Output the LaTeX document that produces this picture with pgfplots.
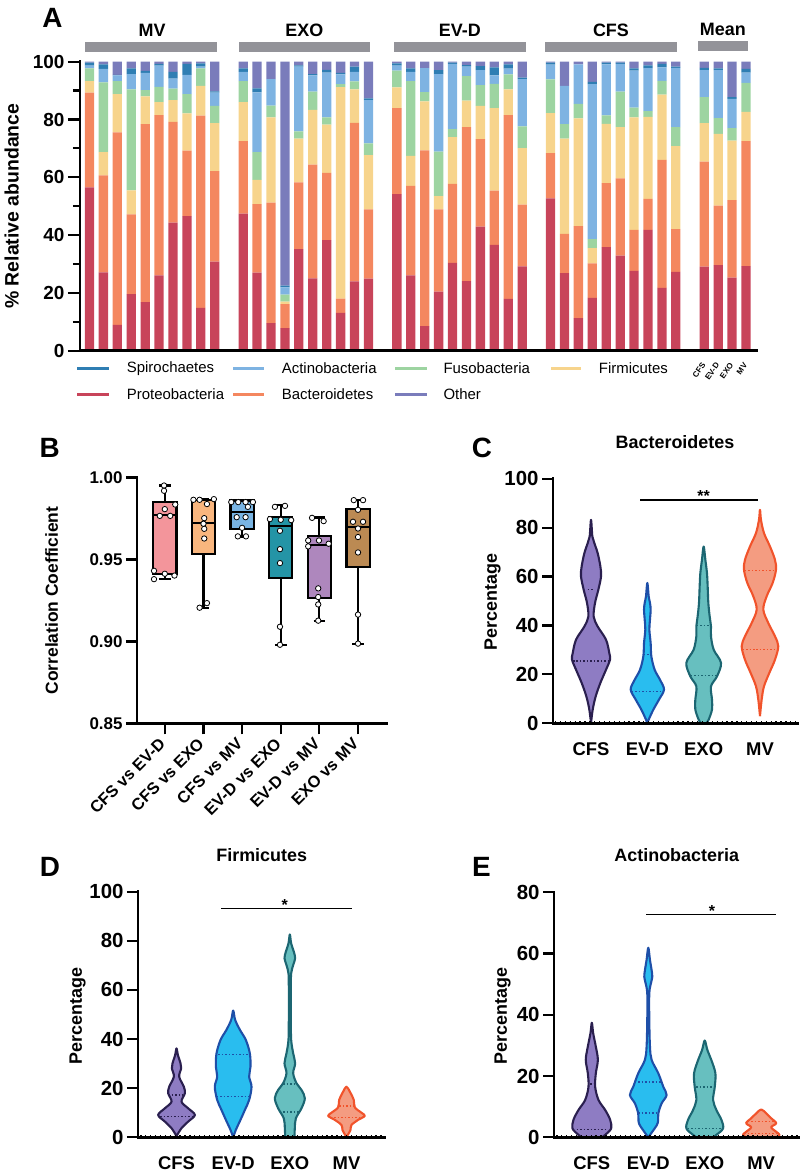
\documentclass[border=0pt]{standalone}
\usepackage{fontspec}
\setmainfont{Liberation Sans}
\usepackage{pgfplots}
\pgfplotsset{compat=1.18}
\usepackage{pgfplotstable}
\usepgfplotslibrary{statistics}
\newcommand{\fs}[1]{\fontsize{#1}{#1}\selectfont}
\definecolor{cP}{HTML}{C8445A}
\definecolor{cB}{HTML}{F4875F}
\definecolor{cF}{HTML}{F7D48C}
\definecolor{cFu}{HTML}{9DD4A1}
\definecolor{cA}{HTML}{7EB3E2}
\definecolor{cS}{HTML}{2F7EB3}
\definecolor{cO}{HTML}{7A7CBB}
\definecolor{grp}{HTML}{939399}
\definecolor{b1}{HTML}{F3959B}
\definecolor{b2}{HTML}{F9B67E}
\definecolor{b3}{HTML}{79B4E3}
\definecolor{b4}{HTML}{2494A6}
\definecolor{b5}{HTML}{AE87BD}
\definecolor{b6}{HTML}{BB8A53}
\definecolor{fCFS}{HTML}{8E7CC3}
\definecolor{eCFS}{HTML}{2A1F4F}
\definecolor{fEVD}{HTML}{29BDEF}
\definecolor{eEVD}{HTML}{1E4FA8}
\definecolor{fEXO}{HTML}{67BFBF}
\definecolor{eEXO}{HTML}{1C6672}
\definecolor{fMV}{HTML}{F49C81}
\definecolor{eMV}{HTML}{F1532B}

\pgfplotstableread{
x P B F Fu A S O
0 56.5 32.8 4.0 4.4 0.9 1.1 0.3
1 27.1 33.6 8.0 24.1 4.7 1.6 0.9
2 8.9 66.6 13.3 4.5 2.0 0.1 4.6
3 19.6 27.6 8.3 34.9 5.3 2.0 2.3
4 16.8 61.6 9.6 2.2 5.9 0.7 3.2
5 26.1 55.4 4.5 5.3 7.3 0.6 0.8
6 44.3 34.9 7.5 4.0 3.4 2.4 3.5
7 46.6 22.6 12.9 6.7 6.6 3.8 0.8
8 14.8 66.5 10.3 6.1 0.6 1.1 0.6
9 30.8 31.3 16.6 6.0 4.6 0.4 10.3
11.04 47.4 25.1 13.5 7.3 3.2 1.2 2.3
12.04 27.0 23.7 8.4 9.6 20.7 1.4 9.2
13.04 9.5 41.7 29.5 4.1 9.2 0.0 6.0
14.04 7.8 8.3 0.9 2.4 2.5 0.6 77.5
15.04 35.1 23.1 15.2 2.5 22.4 0.4 1.3
16.04 25.0 39.4 18.9 6.3 5.7 0.4 4.3
17.04 38.3 23.2 16.7 2.5 15.5 1.0 2.8
18.04 13.1 4.9 73.2 1.0 3.4 0.5 3.9
19.04 24.0 54.8 11.6 2.8 3.3 1.8 1.7
20.04 24.9 24.0 18.8 4.0 15.0 0.6 12.7
22.08 54.2 29.7 7.2 5.8 1.7 0.8 0.6
23.08 26.1 30.9 10.4 25.9 3.2 1.2 2.3
24.08 8.5 60.8 17.0 3.2 8.3 0.0 2.2
25.08 20.4 28.5 4.6 15.4 26.8 1.4 2.9
26.08 30.4 27.3 16.2 2.8 22.5 0.5 0.3
27.08 24.1 53.3 9.1 8.5 3.3 0.5 1.2
28.08 42.9 30.3 11.5 7.2 5.2 1.4 1.5
29.08 36.6 18.8 28.5 8.4 3.0 2.7 2.0
30.08 17.9 63.6 8.9 5.2 2.0 1.5 0.9
31.08 29.2 21.3 19.6 7.5 16.4 0.5 5.5
33.12 52.7 15.7 13.8 11.7 5.1 0.7 0.3
34.12 26.8 13.6 33.0 5.0 13.2 0.0 8.4
35.12 11.3 31.8 37.3 5.0 13.7 0.0 0.9
36.12 18.3 11.9 5.3 3.1 53.6 0.8 7.0
37.12 35.8 22.2 20.5 2.9 17.7 0.6 0.3
38.12 32.9 26.7 17.8 12.2 9.6 0.5 0.3
39.12 27.6 14.2 38.9 3.4 12.8 0.8 2.3
40.12 41.8 10.7 28.4 2.0 14.9 0.9 1.3
41.12 21.7 44.3 22.6 4.8 4.6 1.2 0.8
42.12 27.3 14.8 28.7 6.6 20.5 0.4 1.7
44.16 29.1 36.3 13.3 9.0 9.4 0.8 2.1
45.16 29.6 20.6 24.8 5.5 16.6 0.6 2.3
46.16 25.3 26.8 20.6 4.3 10.1 0.6 12.3
47.16 29.3 43.2 10.1 10.1 3.5 1.3 2.5
}\dataA

% violin outlines: half-width w (axis units) at height y, right side up then left side down
\pgfplotstableread{
w y
0 0
0.030 5.6
0.083 11
0.166 16.5
0.266 21.9
0.337 26
0.325 28.7
0.266 34.2
0.118 39.6
0.047 43.7
0.071 49.2
0.130 54.6
0.178 60.1
0.166 64.2
0.118 69.6
0.059 73.7
0.024 76.4
0 83.2
-0.024 76.4
-0.059 73.7
-0.118 69.6
-0.166 64.2
-0.178 60.1
-0.130 54.6
-0.071 49.2
-0.047 43.7
-0.118 39.6
-0.266 34.2
-0.325 28.7
-0.337 26
-0.266 21.9
-0.166 16.5
-0.083 11
-0.030 5.6
0 0
}\vCa
\pgfplotstableread{
w y
0 0
0.024 1.5
0.107 5.6
0.207 9.7
0.296 13.8
0.225 17.8
0.130 21.9
0.071 27.4
0.059 32.8
0.036 38.3
0.047 42.4
0.059 46.5
0.047 49.2
0.024 51.9
0 57.4
-0.024 51.9
-0.047 49.2
-0.059 46.5
-0.047 42.4
-0.036 38.3
-0.059 32.8
-0.071 27.4
-0.130 21.9
-0.225 17.8
-0.296 13.8
-0.207 9.7
-0.107 5.6
-0.024 1.5
0 0
}\vCb
\pgfplotstableread{
w y
0.047 0
0.089 1.5
0.148 5.6
0.148 9.7
0.130 15.1
0.237 19.2
0.308 24.7
0.178 30.1
0.130 35.6
0.130 39.6
0.107 43.7
0.083 49.2
0.071 56
0.059 61.4
0.030 66.9
0 72.3
-0.030 66.9
-0.059 61.4
-0.071 56
-0.083 49.2
-0.107 43.7
-0.130 39.6
-0.130 35.6
-0.178 30.1
-0.308 24.7
-0.237 19.2
-0.130 15.1
-0.148 9.7
-0.148 5.6
-0.089 1.5
-0.047 0
}\vCc
\pgfplotstableread{
w y
0 2.9
0.030 9.7
0.071 15.1
0.166 20.6
0.266 26
0.325 31.5
0.266 35.6
0.148 41
0.059 46.5
0.118 51.9
0.225 57.4
0.284 62.8
0.266 66.9
0.178 72.3
0.071 77.8
0.018 83.2
0 87.3
-0.018 83.2
-0.071 77.8
-0.178 72.3
-0.266 66.9
-0.284 62.8
-0.225 57.4
-0.118 51.9
-0.059 46.5
-0.148 41
-0.266 35.6
-0.325 31.5
-0.266 26
-0.166 20.6
-0.071 15.1
-0.030 9.7
0 2.9
}\vCd
\pgfplotstableread{
w y
0 0.5
0.088 3.7
0.206 6.4
0.324 9.1
0.206 11.8
0.088 14.5
0.147 17.9
0.129 20.6
0.047 24.7
0.082 28.1
0.071 30.1
0.024 33.5
0 36.2
-0.024 33.5
-0.071 30.1
-0.082 28.1
-0.047 24.7
-0.129 20.6
-0.147 17.9
-0.088 14.5
-0.206 11.8
-0.324 9.1
-0.206 6.4
-0.088 3.7
0 0.5
}\vDa
\pgfplotstableread{
w y
0 0
0.047 3
0.129 7.1
0.206 11.1
0.282 15.2
0.324 20.6
0.282 24.7
0.306 28.8
0.294 34.2
0.224 39.6
0.118 43.8
0.035 47.8
0 51.6
-0.035 47.8
-0.118 43.8
-0.224 39.6
-0.294 34.2
-0.306 28.8
-0.282 24.7
-0.324 20.6
-0.282 15.2
-0.206 11.1
-0.129 7.1
-0.047 3
0 0
}\vDb
\pgfplotstableread{
w y
0.082 0
0.088 3.7
0.106 7.7
0.206 11.8
0.265 15.9
0.206 19.3
0.118 22
0.059 26.1
0.094 30.1
0.059 34.2
0.024 39.6
0.018 47.8
0.018 61.3
0.024 66.8
0.059 70.1
0.094 72.9
0.071 75.5
0.024 78.9
0 82.6
-0.024 78.9
-0.071 75.5
-0.094 72.9
-0.059 70.1
-0.024 66.8
-0.018 61.3
-0.018 47.8
-0.024 39.6
-0.059 34.2
-0.094 30.1
-0.059 26.1
-0.118 22
-0.206 19.3
-0.265 15.9
-0.206 11.8
-0.106 7.7
-0.088 3.7
-0.082 0
}\vDc
\pgfplotstableread{
w y
0 0.3
0.024 1
0.071 3
0.088 5
0.206 7.1
0.324 8.7
0.265 10
0.147 12.2
0.129 15.2
0.059 18.6
0 20.6
-0.059 18.6
-0.129 15.2
-0.147 12.2
-0.265 10
-0.324 8.7
-0.206 7.1
-0.088 5
-0.071 3
-0.024 1
0 0.3
}\vDd
\pgfplotstableread{
w y
0.178 0
0.237 0.8
0.343 2.9
0.325 5.7
0.237 8.9
0.118 12.2
0.059 16.5
0.071 20.9
0.107 25.3
0.071 29.6
0.024 34
0 37.4
-0.024 34
-0.071 29.6
-0.107 25.3
-0.071 20.9
-0.059 16.5
-0.118 12.2
-0.237 8.9
-0.325 5.7
-0.343 2.9
-0.237 0.8
-0.178 0
}\vEa
\pgfplotstableread{
w y
0 0
0.071 1.8
0.166 4.6
0.178 7.8
0.237 11.1
0.325 13.8
0.266 16.5
0.178 20.9
0.059 25.3
0.030 29.6
0.018 38.3
0.018 47
0.047 50.3
0.071 52.4
0.059 54.6
0.030 57.9
0 61.9
-0.030 57.9
-0.059 54.6
-0.071 52.4
-0.047 50.3
-0.018 47
-0.018 38.3
-0.030 29.6
-0.059 25.3
-0.178 20.9
-0.266 16.5
-0.325 13.8
-0.237 11.1
-0.178 7.8
-0.166 4.6
-0.071 1.8
0 0
}\vEb
\pgfplotstableread{
w y
0.148 0
0.207 0.8
0.325 2.9
0.296 5.7
0.207 8.9
0.148 12.2
0.178 16.5
0.189 20.9
0.118 25.2
0.047 28.5
0 31.6
-0.047 28.5
-0.118 25.2
-0.189 20.9
-0.178 16.5
-0.148 12.2
-0.207 8.9
-0.296 5.7
-0.325 2.9
-0.207 0.8
-0.148 0
}\vEc
\pgfplotstableread{
w y
0.266 0
0.325 0.8
0.266 1.8
0.178 3.3
0.266 4.6
0.178 6.2
0.089 7.8
0 9.1
-0.089 7.8
-0.178 6.2
-0.266 4.6
-0.178 3.3
-0.266 1.8
-0.325 0.8
-0.266 0
}\vEd

\pgfplotsset{
  base/.style={scale only axis, anchor=south west,
    axis x line*=bottom, axis y line*=left,
    axis line style={line width=2.6bp, black, line cap=rect},
    tick style={line width=2.2bp, black}, tick align=outside,
    /pgf/number format/assume math mode=true,
    ticklabel style={font=\bfseries\fs{19}}, clip=false, axis on top},
  vio/.style={scale only axis, anchor=south west,
    axis x line*=bottom, axis y line*=left,
    axis line style={line width=2.6bp, black, line cap=rect},
    tick style={line width=2.2bp, black}, tick align=outside,
    /pgf/number format/assume math mode=true,
    yticklabel style={font=\bfseries\fs{20.5}},
    xticklabel style={font=\bfseries\fs{18.5}, yshift=-5bp},
    xtick={1,2,3,4}, xticklabels={CFS,EV-D,EXO,MV}, xtick style={draw=none},
    major tick length=11bp, xmin=0.325, xmax=4.675, ymin=0,
    clip=false, axis on top,
    ylabel={Percentage}},
  vfill/.style={fill=#1, draw=none, smooth, tension=0.55},
  vline/.style={draw=#1, line width=2.1bp, smooth, tension=0.55, line join=round},
  qline/.style={draw=#1, dotted, line width=1.5bp},
}

\begin{document}
\begin{tikzpicture}
\useasboundingbox (0,0) rectangle (800bp,1175bp);

% ---------------- Panel A ----------------
\begin{axis}[base, at={(80bp,824.3bp)}, width=677bp, height=289bp,
  xmin=-0.68, xmax=47.95, ymin=0, ymax=100,
  ytick={0,20,...,100}, minor ytick={10,30,50,70,90},
  major tick length=12bp, minor tick length=7bp,
  ybar stacked, bar width=9.3bp,
  xtick={44.16,45.16,46.16,47.16}, xticklabels={CFS,EV-D,EXO,MV},
  xtick style={draw=none},
  xticklabel style={rotate=55, anchor=east, font=\bfseries\fs{8}, inner sep=1bp},
  ylabel={\% Relative abundance},
  ylabel style={font=\bfseries\fs{19.5}, at={(axis description cs:-0.101,0.5)}, anchor=center}]
\addplot[fill=cP, draw=none] table[x=x, y=P]{\dataA};
\addplot[fill=cB, draw=none] table[x=x, y=B]{\dataA};
\addplot[fill=cF, draw=none] table[x=x, y=F]{\dataA};
\addplot[fill=cFu, draw=none] table[x=x, y=Fu]{\dataA};
\addplot[fill=cA, draw=none] table[x=x, y=A]{\dataA};
\addplot[fill=cS, draw=none] table[x=x, y=S]{\dataA};
\addplot[fill=cO, draw=none] table[x=x, y=O]{\dataA};
\fill[grp] (axis cs:-0.33,103.3) rectangle (axis cs:9.14,106.7);
\fill[grp] (axis cs:10.72,103.3) rectangle (axis cs:20.15,106.7);
\fill[grp] (axis cs:21.88,103.3) rectangle (axis cs:31.33,106.7);
\fill[grp] (axis cs:32.74,103.3) rectangle (axis cs:42.18,106.7);
\fill[grp] (axis cs:43.73,103.7) rectangle (axis cs:47.30,107.3);
\node[font=\bfseries\fs{18}] at (axis cs:4.5,110.9) {MV};
\node[font=\bfseries\fs{18}] at (axis cs:15.43,110.9) {EXO};
\node[font=\bfseries\fs{18}] at (axis cs:26.6,110.9) {EV-D};
\node[font=\bfseries\fs{18}] at (axis cs:37.46,110.9) {CFS};
\node[font=\bfseries\fs{18}] at (axis cs:45.5,111.3) {Mean};
\end{axis}

% legend of panel A
\fill[cS] (77.3bp,805bp) rectangle (109.3bp,808.4bp);
\fill[cA] (233.3bp,805bp) rectangle (264bp,808.4bp);
\fill[cFu] (395bp,805bp) rectangle (426.7bp,808.4bp);
\fill[cF] (550.6bp,805bp) rectangle (581.2bp,808.4bp);
\fill[cP] (77.3bp,779bp) rectangle (109.3bp,782.4bp);
\fill[cB] (233.3bp,779bp) rectangle (264bp,782.4bp);
\fill[cO] (395bp,779bp) rectangle (426.7bp,782.4bp);
\begin{scope}[every node/.style={anchor=west, inner sep=0pt, font=\fs{15}}]
\node at (126.7bp,806.7bp) {Spirochaetes};
\node at (281.7bp,806.7bp) {Actinobacteria};
\node at (443.3bp,806.7bp) {Fusobacteria};
\node at (598.7bp,806.7bp) {Firmicutes};
\node at (126.7bp,780.7bp) {Proteobacteria};
\node at (281.7bp,780.7bp) {Bacteroidetes};
\node at (443.3bp,780.7bp) {Other};
\end{scope}

% ---------------- Panel B ----------------
\begin{axis}[base, at={(137bp,451.5bp)}, width=250bp, height=246bp,
  xmin=0.28, xmax=6.75, ymin=0.85, ymax=1.0,
  ytick={0.85,0.90,0.95,1.00}, scaled y ticks=false, major tick length=11bp,
  yticklabel style={font=\bfseries\fs{17}},
  y tick label style={/pgf/number format/fixed, /pgf/number format/fixed zerofill, /pgf/number format/precision=2},
  xtick={1,...,6},
  xticklabels={CFS vs EV-D,CFS vs EXO,CFS vs MV,EV-D vs EXO,EV-D vs MV,EXO vs MV},
  xticklabel style={rotate=45, anchor=east, font=\bfseries\fs{16.5}},
  xticklabel shift=4bp,
  ylabel={Correlation Coefficient},
  ylabel style={font=\bfseries\fs{17.5}, at={(axis description cs:-0.341,0.5)}, anchor=center},
  boxplot/draw direction=y, boxplot/box extend=0.6, boxplot/whisker extend=0.3,
  boxplot/every whisker/.style={line width=2.2bp},
  boxplot/every median/.style={line width=2.2bp},
  boxplot/every box/.style={line width=2.2bp}]
\addplot[fill=b1, draw=black, line width=2.2bp, boxplot prepared={lower whisker=0.938, lower quartile=0.9413, median=0.977, upper quartile=0.9852, upper whisker=0.9951, draw position=1}] coordinates {};
\addplot[fill=b2, draw=black, line width=2.2bp, boxplot prepared={lower whisker=0.9205, lower quartile=0.9533, median=0.9722, upper quartile=0.9862, upper whisker=0.9868, draw position=2}] coordinates {};
\addplot[fill=b3, draw=black, line width=2.2bp, boxplot prepared={lower whisker=0.964, lower quartile=0.9685, median=0.9791, upper quartile=0.986, upper whisker=0.986, draw position=3}] coordinates {};
\addplot[fill=b4, draw=black, line width=2.2bp, boxplot prepared={lower whisker=0.898, lower quartile=0.9388, median=0.9703, upper quartile=0.9758, upper whisker=0.9831, draw position=4}] coordinates {};
\addplot[fill=b5, draw=black, line width=2.2bp, boxplot prepared={lower whisker=0.9126, lower quartile=0.9266, median=0.9589, upper quartile=0.9644, upper whisker=0.9756, draw position=5}] coordinates {};
\addplot[fill=b6, draw=black, line width=2.2bp, boxplot prepared={lower whisker=0.8986, lower quartile=0.9453, median=0.9697, upper quartile=0.9807, upper whisker=0.9864, draw position=6}] coordinates {};
\addplot[only marks, mark=*, mark size=2.7bp, mark options={fill=white, draw=black, line width=0.8bp}] coordinates {
(0.98,0.9951) (0.98,0.9919) (1.00,0.9807) (0.87,0.9766) (1.14,0.9766)
(1.27,0.9835) (0.72,0.9431) (1.00,0.9413) (1.25,0.9402) (0.72,0.9380)
(1.74,0.9864) (1.90,0.9864) (2.27,0.9868) (2.09,0.9838) (2.02,0.9752)
(2.00,0.9718) (2.02,0.9687) (2.02,0.9628) (2.09,0.9234) (1.90,0.9206)
(2.72,0.9850) (2.90,0.9850) (3.09,0.9850) (3.28,0.9850) (3.15,0.9821)
(2.86,0.9758) (3.09,0.9758) (3.00,0.9693) (2.89,0.9641) (3.10,0.9641)
(3.85,0.9821) (4.11,0.9827) (3.72,0.9746) (4.00,0.9742) (4.27,0.9740)
(3.98,0.9675) (3.98,0.9563) (3.98,0.9478) (3.98,0.9090) (3.98,0.8980)
(4.81,0.9754) (5.11,0.9734) (4.71,0.9616) (4.99,0.9616) (4.71,0.9580)
(5.24,0.9596) (4.97,0.9324) (4.97,0.9271) (4.97,0.9226) (4.97,0.9127)
(5.89,0.9862) (6.13,0.9862) (6.00,0.9803) (5.87,0.9730) (6.13,0.9730)
(6.00,0.9689) (6.00,0.9637) (6.00,0.9543) (6.00,0.9164) (6.00,0.8987)
};
\end{axis}

% ---------------- Panel C ----------------
\begin{axis}[vio, at={(553bp,451.7bp)}, width=245bp, height=244.5bp,
  ymax=100, ytick={0,20,...,100},
  ylabel style={font=\bfseries\fs{18}, at={(axis description cs:-0.247,0.497)}, anchor=center}]
\addplot[vfill=fCFS] table[x expr=\thisrow{w}+1, y=y]{\vCa};
\addplot[vfill=fEVD] table[x expr=\thisrow{w}+2, y=y]{\vCb};
\addplot[vfill=fEXO] table[x expr=\thisrow{w}+3, y=y]{\vCc};
\addplot[vfill=fMV] table[x expr=\thisrow{w}+4, y=y]{\vCd};
\addplot[qline=eCFS] coordinates {(0.68,25.4) (1.32,25.4)};
\addplot[qline=eCFS] coordinates {(0.94,54.7) (1.06,54.7)};
\addplot[qline=eEVD] coordinates {(1.94,28.1) (2.06,28.1)};
\addplot[qline=eEVD] coordinates {(1.72,13.1) (2.28,13.1)};
\addplot[qline=eEXO] coordinates {(2.88,39.9) (3.12,39.9)};
\addplot[qline=eEXO] coordinates {(2.77,19.5) (3.23,19.5)};
\addplot[qline=eMV] coordinates {(3.73,62.5) (4.27,62.5)};
\addplot[qline=eMV] coordinates {(3.69,30.1) (4.31,30.1)};
\addplot[vline=eCFS] table[x expr=\thisrow{w}+1, y=y]{\vCa};
\addplot[vline=eEVD] table[x expr=\thisrow{w}+2, y=y]{\vCb};
\addplot[vline=eEXO] table[x expr=\thisrow{w}+3, y=y]{\vCc};
\addplot[vline=eMV] table[x expr=\thisrow{w}+4, y=y]{\vCd};
\draw[line width=1.6bp] (axis cs:1.87,91.3) -- (axis cs:3.97,91.3);
\node[font=\bfseries\fs{16}, anchor=base] at (axis cs:3.0,90.6) {**};
\draw[line width=4.2bp, dash pattern=on 1.3bp off 3.6bp] (axis cs:0.36,0) -- (axis cs:4.675,0);
\end{axis}

% ---------------- Panel D ----------------
\begin{axis}[vio, at={(138bp,37.7bp)}, width=247bp, height=245.6bp,
  xmin=0.32, xmax=4.68,
  ymax=100, ytick={0,20,...,100},
  ylabel style={font=\bfseries\fs{18}, at={(axis description cs:-0.245,0.495)}, anchor=center}]
\addplot[vfill=fCFS] table[x expr=\thisrow{w}+1, y=y]{\vDa};
\addplot[vfill=fEVD] table[x expr=\thisrow{w}+2, y=y]{\vDb};
\addplot[vfill=fEXO] table[x expr=\thisrow{w}+3, y=y]{\vDc};
\addplot[vfill=fMV] table[x expr=\thisrow{w}+4, y=y]{\vDd};
\addplot[qline=eCFS] coordinates {(0.85,17.2) (1.15,17.2)};
\addplot[qline=eCFS] coordinates {(0.71,8.4) (1.29,8.4)};
\addplot[qline=eEVD] coordinates {(1.74,33.8) (2.26,33.8)};
\addplot[qline=eEVD] coordinates {(1.71,16.6) (2.29,16.6)};
\addplot[qline=eEXO] coordinates {(2.88,21.6) (3.12,21.6)};
\addplot[qline=eEXO] coordinates {(2.82,10.4) (3.18,10.4)};
\addplot[qline=eMV] coordinates {(3.87,12.8) (4.13,12.8)};
\addplot[qline=eMV] coordinates {(3.72,8.0) (4.28,8.0)};
\addplot[vline=eCFS] table[x expr=\thisrow{w}+1, y=y]{\vDa};
\addplot[vline=eEVD] table[x expr=\thisrow{w}+2, y=y]{\vDb};
\addplot[vline=eEXO] table[x expr=\thisrow{w}+3, y=y]{\vDc};
\addplot[vline=eMV] table[x expr=\thisrow{w}+4, y=y]{\vDd};
\draw[line width=1.6bp] (axis cs:1.79,93.2) -- (axis cs:4.10,93.2);
\node[font=\bfseries\fs{16}, anchor=base] at (axis cs:2.91,92.5) {*};
\draw[line width=4.2bp, dash pattern=on 1.3bp off 3.6bp] (axis cs:0.36,0) -- (axis cs:4.68,0);
\end{axis}

% ---------------- Panel E ----------------
\begin{axis}[vio, at={(554bp,37.7bp)}, width=245bp, height=245bp,
  xmin=0.33, xmax=4.67,
  ymax=80, ytick={0,20,...,80},
  ylabel style={font=\bfseries\fs{18}, at={(axis description cs:-0.21,0.495)}, anchor=center}]
\addplot[vfill=fCFS] table[x expr=\thisrow{w}+1, y=y]{\vEa};
\addplot[vfill=fEVD] table[x expr=\thisrow{w}+2, y=y]{\vEb};
\addplot[vfill=fEXO] table[x expr=\thisrow{w}+3, y=y]{\vEc};
\addplot[vfill=fMV] table[x expr=\thisrow{w}+4, y=y]{\vEd};
\addplot[qline=eCFS] coordinates {(0.976,17.4) (1.024,17.4)};
\addplot[qline=eCFS] coordinates {(0.73,2.6) (1.27,2.6)};
\addplot[qline=eEVD] coordinates {(1.76,18.0) (2.24,18.0)};
\addplot[qline=eEVD] coordinates {(1.82,8.0) (2.18,8.0)};
\addplot[qline=eEXO] coordinates {(2.85,16.5) (3.15,16.5)};
\addplot[qline=eEXO] coordinates {(2.70,2.9) (3.30,2.9)};
\addplot[qline=eMV] coordinates {(3.76,5.1) (4.24,5.1)};
\addplot[qline=eMV] coordinates {(3.70,1.3) (4.30,1.3)};
\addplot[vline=eCFS] table[x expr=\thisrow{w}+1, y=y]{\vEa};
\addplot[vline=eEVD] table[x expr=\thisrow{w}+2, y=y]{\vEb};
\addplot[vline=eEXO] table[x expr=\thisrow{w}+3, y=y]{\vEc};
\addplot[vline=eMV] table[x expr=\thisrow{w}+4, y=y]{\vEd};
\draw[line width=1.6bp] (axis cs:1.96,72.8) -- (axis cs:4.27,72.8);
\node[font=\bfseries\fs{16}, anchor=base] at (axis cs:3.13,72.2) {*};
\draw[line width=4.2bp, dash pattern=on 1.3bp off 3.6bp] (axis cs:0.37,0) -- (axis cs:4.67,0);
\end{axis}

% titles and panel letters
\node[font=\bfseries\fs{28}] at (52.5bp,1157.5bp) {A};
\node[font=\bfseries\fs{28}] at (49.7bp,727bp) {B};
\node[font=\bfseries\fs{28}] at (482bp,727bp) {C};
\node[font=\bfseries\fs{28}] at (50bp,308.3bp) {D};
\node[font=\bfseries\fs{28}] at (481.3bp,308.3bp) {E};
\node[font=\bfseries\fs{18}] at (675bp,733.3bp) {Bacteroidetes};
\node[font=\bfseries\fs{18}] at (261.7bp,320bp) {Firmicutes};
\node[font=\bfseries\fs{18}] at (676.7bp,320bp) {Actinobacteria};
\end{tikzpicture}
\end{document}
